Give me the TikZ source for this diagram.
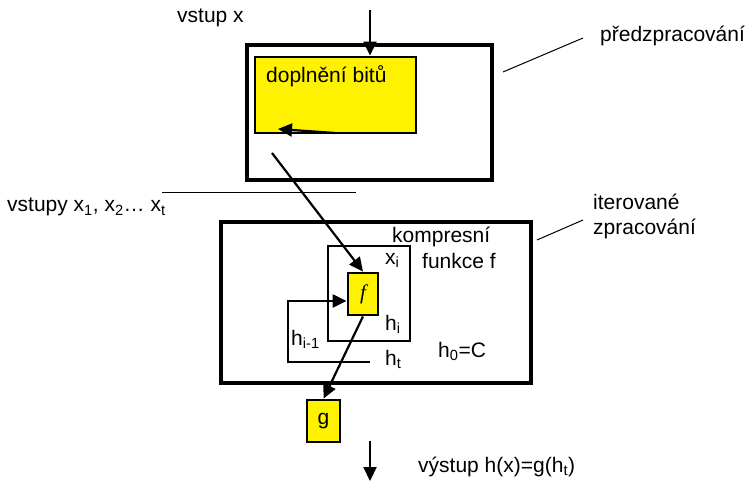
\documentclass[tikz,border=0pt]{standalone}
\usepackage{fontspec}
\setmainfont{Liberation Sans}
\newfontfamily\serifit{Liberation Serif}[ItalicFont={Liberation Serif Italic}]
\usetikzlibrary{arrows.meta}
\begin{document}
\begin{tikzpicture}[x=1pt,y=-1pt,
  lbl/.style={anchor=base west, inner sep=0pt, font=\fontsize{21}{25}\selectfont},
  bigbox/.style={draw, line width=3.2pt, inner sep=0pt},
  midbox/.style={draw, line width=2.8pt, inner sep=0pt},
  ybox/.style={draw, fill=yellow, line width=2.8pt, inner sep=0pt},
  arr/.style={line width=2.2pt, -{Triangle[length=14pt,width=13pt]}},
  thin/.style={line width=1pt}]
\useasboundingbox (0,0) rectangle (755,481);
% boxes
\node[bigbox, minimum width=245pt, minimum height=135pt] (pre) at (369.5,112.5) {};
\node[ybox, minimum width=161pt, minimum height=76pt] (dop) at (335.5,95) {};
\node[bigbox, minimum width=310pt, minimum height=161pt] (iter) at (376,302.5) {};
\node[midbox, minimum width=82pt, minimum height=95pt] (kf) at (369,293.5) {};
\node[ybox, minimum width=30pt, minimum height=42pt, font=\fontsize{21}{25}\serifit\itshape] (f) at (363,294) {f};
\node[ybox, minimum width=33pt, minimum height=42pt, font=\fontsize{21}{25}\selectfont] (g) at (323.5,421) {g};
% labels
\node[lbl] (lvstup) at (177,23) {vstup x};
\node[lbl] (ldop) at (266,83) {doplnění bitů};
\node[lbl] (lpre) at (600,42) {předzpracování};
\node[lbl] (liter1) at (593,210) {iterované};
\node[lbl] (liter2) at (593,235) {zpracování};
\node[lbl] (lvstupy) at (7,212) {vstupy x\textsubscript{1}, x\textsubscript{2}\dots{} x\textsubscript{t}};
\node[lbl] (lkomp) at (392,243) {kompresní};
\node[lbl] (lfun) at (422,269) {funkce f};
\node[lbl] (lxi) at (385,264) {x\textsubscript{i}};
\node[lbl] (lhi) at (385,330) {h\textsubscript{i}};
\node[lbl] (lhim) at (291,345) {h\textsubscript{i-1}};
\node[lbl] (lht) at (385,365) {h\textsubscript{t}};
\node[lbl] (lh0) at (438,357) {h\textsubscript{0}=C};
\node[lbl] (lout) at (418,472) {výstup h(x)=g(h\textsubscript{t})};
% coordinates
\coordinate (tin) at (370,10);
\coordinate (ia) at (335,133);
\coordinate (ib) at (278,129);
\coordinate (ds) at (272,153);
\coordinate (hl1) at (162,193);
\coordinate (hl2) at (356,193);
\coordinate (htend) at (370,362);
\coordinate (fbk) at (288,301);
\coordinate (o1) at (370,441);
\coordinate (o2) at (370,481);
\coordinate (le1a) at (503,72);
\coordinate (le1b) at (583,38);
\coordinate (le2a) at (537,240);
\coordinate (le2b) at (583,220);
% connectors
\draw[arr] (tin) -- (tin |- dop.north);
\draw[arr] (ia) -- (ib);
\draw[arr] (ds) -- (f.north);
\draw[thin] (hl1) -- (hl2);
\draw[arr] (htend) -- (htend -| fbk) -- (fbk) -- (fbk -| f.west);
\draw[arr] (f.south) -- (g.north);
\draw[arr] (o1) -- (o2);
\draw[thin] (le1a) -- (le1b);
\draw[thin] (le2a) -- (le2b);
\end{tikzpicture}
\end{document}
